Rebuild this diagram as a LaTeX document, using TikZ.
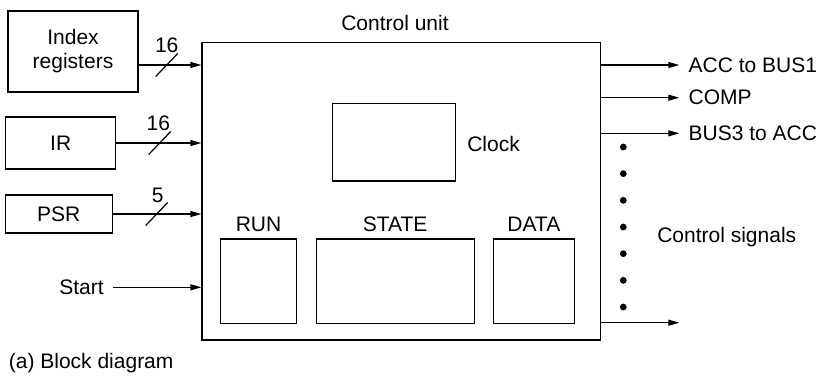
\documentclass[tikz,border=0pt]{standalone}
\usepackage{fontspec}
\setmainfont{Liberation Sans}
\usetikzlibrary{arrows.meta,calc}
\begin{document}
\begin{tikzpicture}[x=0.5pt,y=-0.5pt,
  font=\fontsize{10.5}{12}\selectfont,
  line width=0.6pt,
  box/.style={draw,inner sep=0pt,align=center},
  arr/.style={-{Triangle[length=5.5pt,width=3pt]}},
  lbl/.style={inner sep=0pt,anchor=base},
  dot/.style={circle,fill,inner sep=0pt,minimum size=3.4pt}]
\useasboundingbox (0,0) rectangle (823,376);
% boxes
\node[box,minimum width=65pt,minimum height=40.5pt] (idx) at (73,51.5) {Index\\registers};
\node[box,minimum width=55pt,minimum height=26pt] (ir) at (60.7,143) {IR};
\node[box,minimum width=53.6pt,minimum height=19pt] (psr) at (58.7,214) {PSR};
\node[box,minimum width=199.3pt,minimum height=148.6pt] (cu) at (401.3,191.3) {};
\node[box,minimum width=61.5pt,minimum height=38.8pt] (clock) at (394.2,142.2) {};
\node[box,minimum width=37.8pt,minimum height=42.3pt] (run) at (258.5,281.3) {};
\node[box,minimum width=79.1pt,minimum height=42.3pt] (state) at (395.2,281.3) {};
\node[box,minimum width=40.5pt,minimum height=42.3pt] (data) at (533.8,281.3) {};
% labels
\node[lbl] (cul) at (395,30.8) {Control unit};
\node[lbl,anchor=base west] (clk) at (466.7,151.5) {Clock};
\node[lbl] (runl) at (258.5,231.5) {RUN};
\node[lbl] (statel) at (395.2,231.5) {STATE};
\node[lbl] (datal) at (533.8,231.5) {DATA};
\node[lbl,anchor=base west] (cs) at (656.7,242.5) {Control signals};
\node[lbl,anchor=base west] (cap) at (8.3,368.5) {(a) Block diagram};
\node[anchor=east,inner xsep=4.2pt,inner ysep=0pt] (start) at (112.7,287.3) {Start};
% input arrows
\coordinate (i1) at (138,65);
\draw[arr] (i1) -- (cu.west |- i1);
\draw[arr] (ir.east) -- (cu.west |- ir.east);
\draw[arr] (psr.east) -- (cu.west |- psr.east);
\draw[arr] (start.east) -- (cu.west |- start.east);
% bus slashes
\coordinate (s1) at (166.7,65);
\coordinate (s2) at (159.7,143);
\coordinate (s3) at (156.7,214);
\foreach \s in {s1,s2,s3}{
  \draw ($(\s)+(-11,11.5)$) -- ($(\s)+(11,-11.5)$);
}
\node[lbl] (n1) at (166.7,52.5) {16};
\node[lbl] (n2) at (158.3,130.2) {16};
\node[lbl] (n3) at (157.7,202.5) {5};
% outputs
\coordinate (o1) at (679.3,65);
\coordinate (o2) at (679.3,97.7);
\coordinate (o3) at (679.3,133.3);
\coordinate (o4) at (679.3,322.7);
\draw[arr] (cu.east |- o1) -- (o1);
\draw[arr] (cu.east |- o2) -- (o2);
\draw[arr] (cu.east |- o3) -- (o3);
\draw[arr] (cu.east |- o4) -- (o4);
\node[anchor=west,inner sep=0pt] (t1) at (688,65) {ACC to BUS1};
\node[anchor=west,inner sep=0pt] (t2) at (688,97.7) {COMP};
\node[anchor=west,inner sep=0pt] (t3) at (688,133.3) {BUS3 to ACC};
% dots
\foreach \i in {0,...,6}{
  \node[dot] (d\i) at (623.3,147+26.67*\i) {};
}
\end{tikzpicture}
\end{document}
